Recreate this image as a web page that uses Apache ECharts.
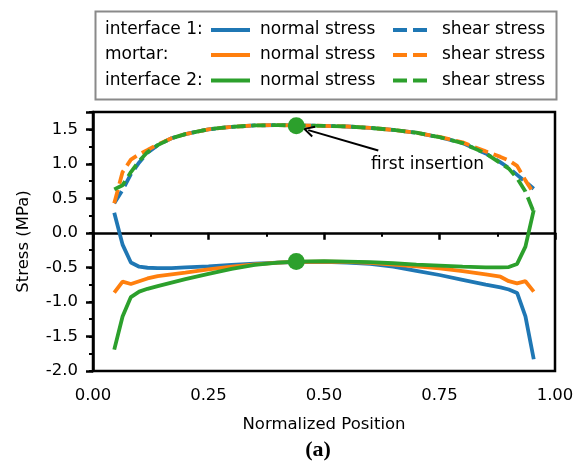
<!DOCTYPE html>
<html><head><meta charset="utf-8">
<script src="https://cdn.jsdelivr.net/npm/echarts@6/dist/echarts.min.js"></script>
<style>html,body{margin:0;padding:0;background:#fff}#c{width:585px;height:461px}</style>
</head><body><div id="c"></div>
<script>
// ---- data ----
const xPos = [0.046, 0.064, 0.082, 0.100, 0.118, 0.140, 0.170, 0.200, 0.250, 0.300, 0.350, 0.400, 0.440, 0.500, 0.550, 0.600, 0.650, 0.700, 0.750, 0.800, 0.850, 0.882, 0.900, 0.918, 0.936, 0.954];
const if1Normal = [0.29, -0.17, -0.43, -0.49, -0.505, -0.51, -0.51, -0.50, -0.485, -0.465, -0.447, -0.432, -0.425, -0.42, -0.43, -0.45, -0.49, -0.55, -0.61, -0.68, -0.75, -0.79, -0.82, -0.87, -1.21, -1.83];
const if1Shear = [0.43, 0.62, 0.85, 1.02, 1.16, 1.27, 1.37, 1.43, 1.50, 1.535, 1.555, 1.56, 1.555, 1.55, 1.54, 1.52, 1.49, 1.45, 1.385, 1.30, 1.15, 1.02, 0.94, 0.84, 0.74, 0.64];
const mortarNormal = [-0.865, -0.705, -0.74, -0.70, -0.66, -0.625, -0.60, -0.575, -0.53, -0.49, -0.457, -0.432, -0.42, -0.415, -0.42, -0.435, -0.46, -0.485, -0.515, -0.555, -0.60, -0.635, -0.70, -0.73, -0.70, -0.85];
const mortarShear = [0.43, 0.88, 1.06, 1.14, 1.20, 1.28, 1.37, 1.43, 1.50, 1.535, 1.555, 1.56, 1.555, 1.55, 1.54, 1.52, 1.49, 1.45, 1.39, 1.31, 1.18, 1.10, 1.05, 0.97, 0.76, 0.57];
const if2Normal = [-1.69, -1.21, -0.93, -0.85, -0.81, -0.77, -0.72, -0.67, -0.595, -0.52, -0.465, -0.432, -0.415, -0.41, -0.415, -0.425, -0.44, -0.46, -0.475, -0.49, -0.50, -0.50, -0.495, -0.45, -0.20, 0.33];
const if2Shear = [0.63, 0.69, 0.88, 1.04, 1.17, 1.27, 1.37, 1.43, 1.50, 1.535, 1.555, 1.56, 1.555, 1.55, 1.54, 1.52, 1.49, 1.45, 1.385, 1.30, 1.15, 1.01, 0.93, 0.79, 0.60, 0.30];
const dotX = [0.44, 0.44];
const dotY = [1.55, -0.415];
const annotText = 'first insertion';
const annotTextAt = [0.602, 0.985];
const annotArrowFrom = [0.6175, 1.193];
const annotArrowTo = [0.466, 1.487];
const groupLabels = ['interface 1:', 'mortar:', 'interface 2:'];
const xTicks = [0, 0.25, 0.5, 0.75, 1.0];
const yTicks = [-2.0, -1.5, -1.0, -0.5, 0.0, 0.5, 1.0, 1.5];

const C = ['#1f77b4', '#ff7f0e', '#2ca02c'];
const FONT = 'DejaVu Sans';
const pairs = ys => xPos.map((x, i) => [x, ys[i]]);
const LW = 3.8;
const DASH = [14, 6];

const groups = [
  {name: 'interface 1', n: if1Normal, s: if1Shear, c: C[0]},
  {name: 'mortar', n: mortarNormal, s: mortarShear, c: C[1]},
  {name: 'interface 2', n: if2Normal, s: if2Shear, c: C[2]}
];
const series = [];
groups.forEach(g => {
  series.push({name: g.name + ' normal', type: 'line', data: pairs(g.n), symbol: 'none', showSymbol: false,
    lineStyle: {color: g.c, width: LW}, itemStyle: {color: g.c}, z: 2});
  series.push({name: g.name + ' shear', type: 'line', data: pairs(g.s), symbol: 'none', showSymbol: false,
    lineStyle: {color: g.c, width: LW, type: DASH}, itemStyle: {color: g.c}, z: 2});
});
series.push({
  name: 'dots', type: 'scatter', data: dotX.map((x, i) => [x, dotY[i]]),
  symbol: 'circle', symbolSize: 17, itemStyle: {color: C[2], opacity: 1}, z: 5,
  markLine: {
    silent: true, animation: false,
    symbol: ['none', 'path://M5,0 L10,10 L8.5,10.8 L5,3.6 L1.5,10.8 L0,10 Z'],
    symbolSize: [12, 12],
    lineStyle: {color: '#000', width: 2, type: 'solid'},
    label: {show: false},
    data: [[{coord: annotArrowFrom}, {coord: annotArrowTo}]]
  },
  markPoint: {
    silent: true, animation: false,
    data: [{coord: annotTextAt, symbol: 'circle', symbolSize: 0, itemStyle: {color: 'rgba(0,0,0,0)'},
      label: {show: true, position: 'right', distance: 0, formatter: annotText,
        color: '#000', fontFamily: FONT, fontSize: 17}}]
  }
});

const rowTop = [20, 45, 70.5];
const legends = groups.map((g, i) => ({
  data: [g.name + ' normal', g.name + ' shear'],
  left: 209, top: rowTop[i], padding: 0, orient: 'horizontal',
  itemWidth: 39, itemHeight: 14, itemGap: 10, selectedMode: false,
  itemStyle: {opacity: 0, borderWidth: 0},
  lineStyle: {width: 4},
  formatter: n => n.endsWith('normal') ? 'normal stress' : 'shear stress',
  textStyle: {color: '#000', fontFamily: FONT, fontSize: 17, lineHeight: 20, padding: [0, 0, 0, 5], width: 121}
}));

const graphics = [
  {type: 'rect', left: 93, top: 9, shape: {width: 461, height: 88},
    style: {fill: 'none', stroke: '#8a8a8a', lineWidth: 2}, z: 10},
  ...groupLabels.map((t, i) => ({type: 'text', x: 105, y: rowTop[i] + 10, z: 11,
    style: {text: t, fill: '#000', font: '17px "DejaVu Sans"', textAlign: 'left', textVerticalAlign: 'middle'}})),
  {type: 'text', x: 318, y: 450, z: 11,
    style: {text: '(a)', fill: '#000', font: 'bold 22px "Liberation Serif"', textAlign: 'center', textVerticalAlign: 'middle'}}
];

const chart = echarts.init(document.getElementById('c'), null, {renderer: 'canvas'});
chart.setOption({
  animation: false,
  backgroundColor: '#fff',
  grid: {left: 93, right: 30, top: 112, bottom: 90, show: true, borderColor: '#000', borderWidth: 2.5, backgroundColor: 'transparent'},
  legend: legends,
  graphic: graphics,
  xAxis: [{
    type: 'value', min: 0, max: 1, interval: 0.25,
    name: 'Normalized Position', nameLocation: 'middle', nameGap: 45,
    nameTextStyle: {color: '#000', fontFamily: FONT, fontSize: 16.5},
    axisLine: {show: true, lineStyle: {color: '#000', width: 2.5}},
    axisTick: {show: true, length: 7, lineStyle: {color: '#000', width: 2.5}},
    minorTick: {show: true, splitNumber: 2, length: 4, lineStyle: {color: '#000', width: 2}},
    axisLabel: {color: '#000', fontFamily: FONT, fontSize: 16.5, margin: 16,
      formatter: v => xTicks.some(t => Math.abs(t - v) < 1e-9) ? v.toFixed(2) : ''},
    splitLine: {show: false}
  }],
  yAxis: [{
    type: 'value', min: -2, max: 1.75, interval: 0.5,
    name: 'Stress (MPa)', nameLocation: 'middle', nameGap: 61,
    nameTextStyle: {color: '#000', fontFamily: FONT, fontSize: 16.5},
    axisLine: {show: true, lineStyle: {color: '#000', width: 2.5}},
    axisTick: {show: true, length: 7, lineStyle: {color: '#000', width: 2.5}},
    axisLabel: {color: '#000', fontFamily: FONT, fontSize: 16.5, margin: 15,
      formatter: v => yTicks.some(t => Math.abs(t - v) < 1e-9) ? v.toFixed(1) : ''},
    splitLine: {show: false}
  }, {
    type: 'value', min: -2, max: 1.75, interval: 0.25, position: 'left', offset: 0,
    axisLine: {show: false},
    axisTick: {show: true, length: 4, lineStyle: {color: '#000', width: 2}},
    axisLabel: {show: false}, splitLine: {show: false}
  }],
  series: series
});
</script>
</body></html>
